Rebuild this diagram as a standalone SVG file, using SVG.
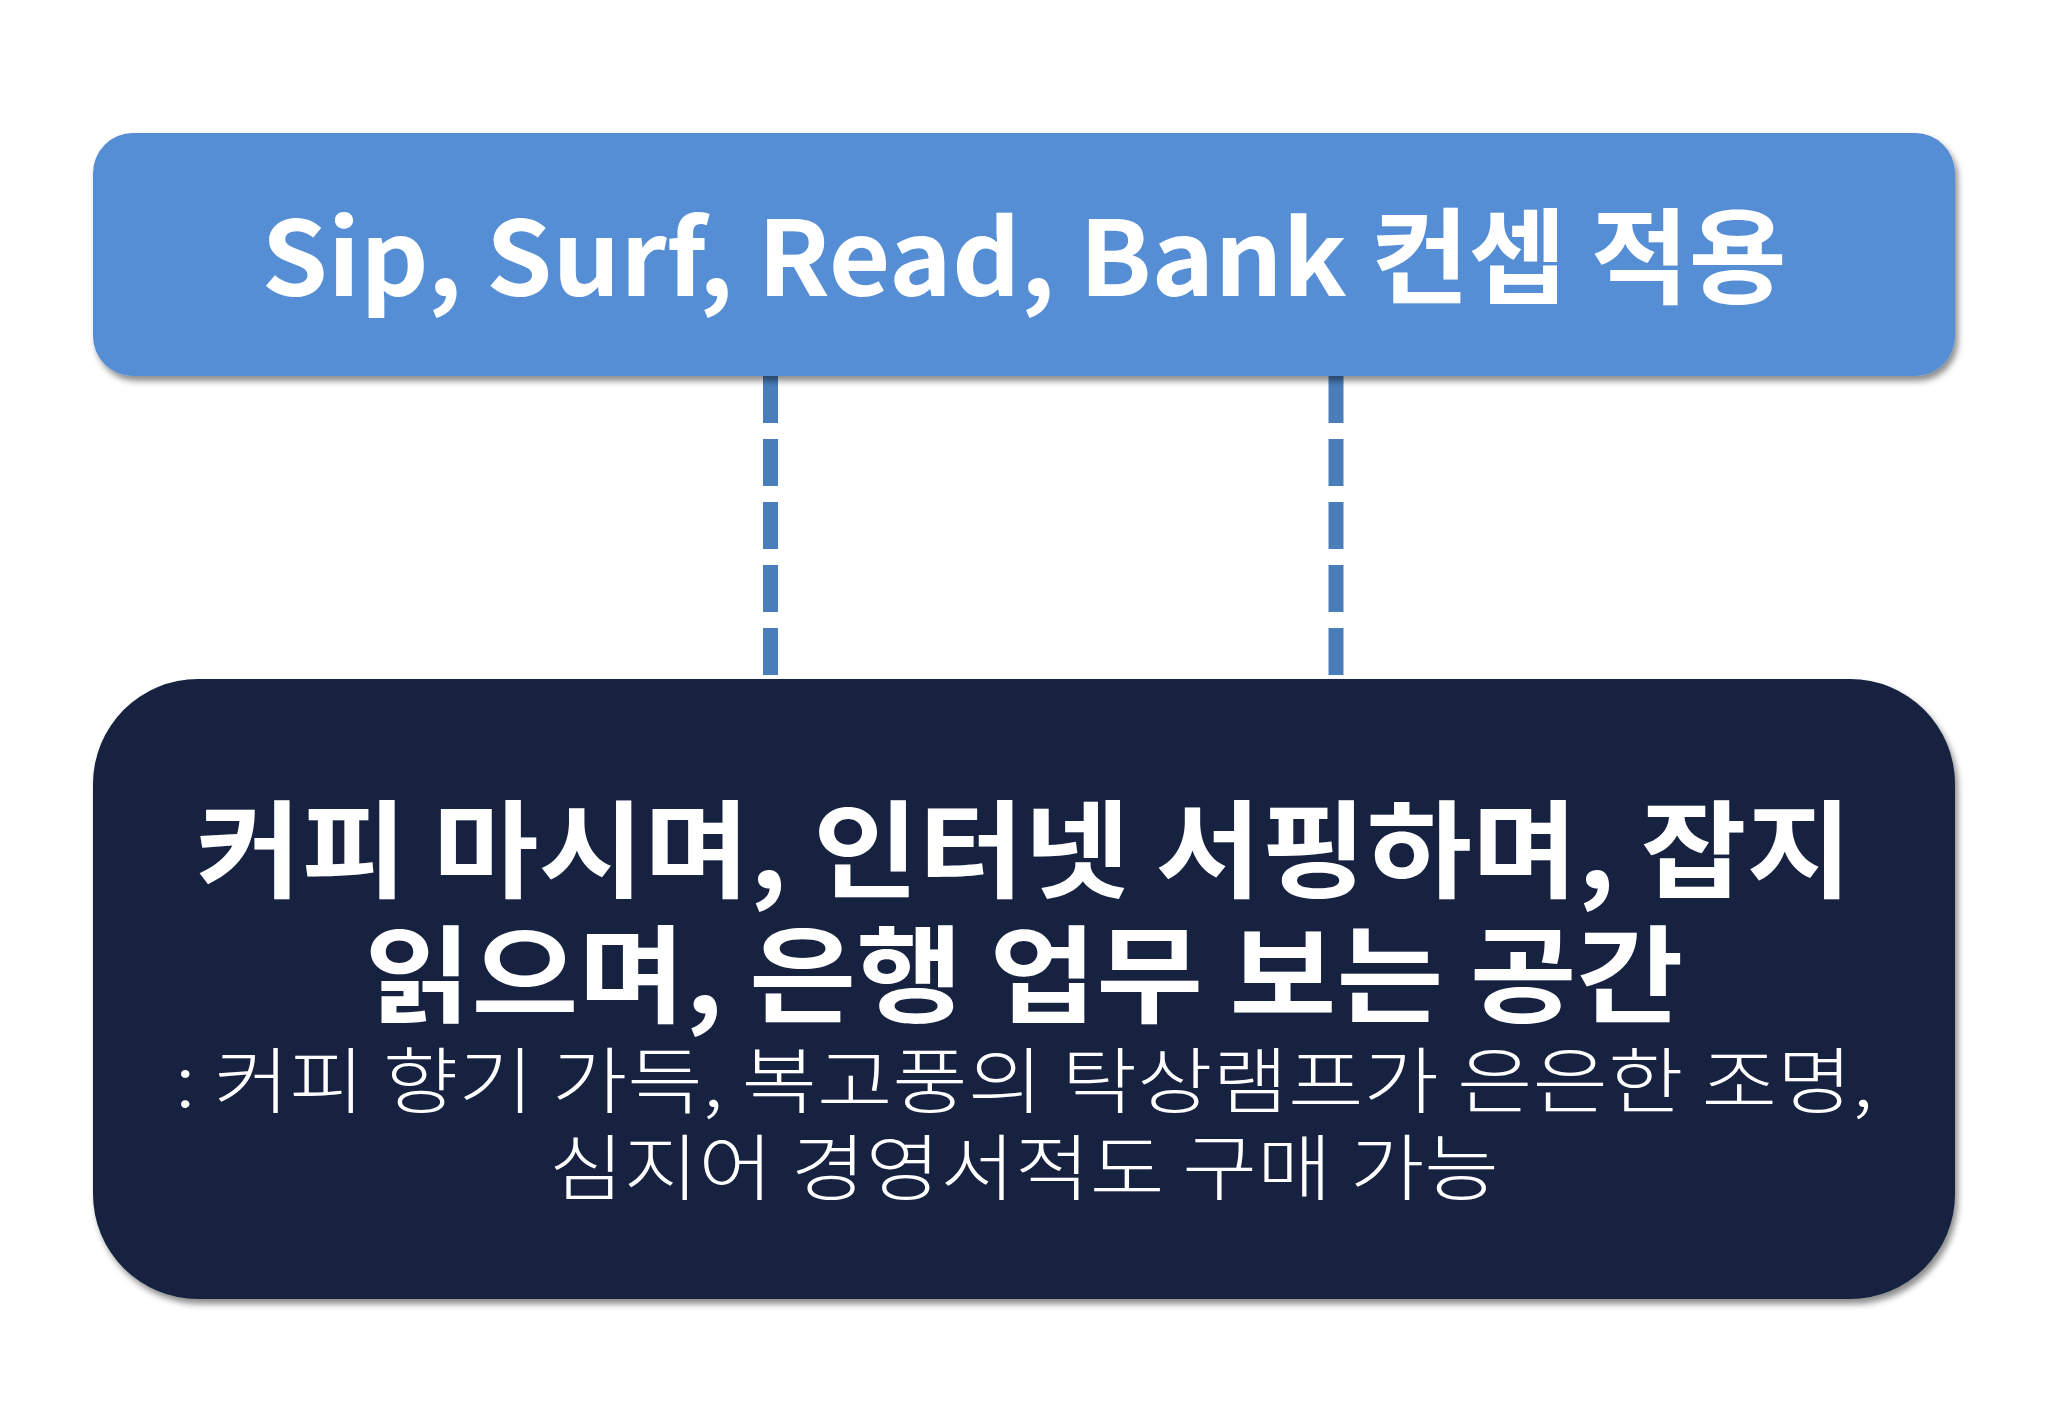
<svg xmlns="http://www.w3.org/2000/svg" width="2048" height="1418" viewBox="0 0 2048 1418">
<defs>
<filter id="sh" x="-5%" y="-10%" width="110%" height="125%">
<feDropShadow dx="3" dy="5" stdDeviation="3" flood-color="#000" flood-opacity="0.45"/>
</filter>
<style>
.t{font-family:"Malgun Gothic","Noto Sans CJK KR","Noto Sans",sans-serif;fill:#fff;text-anchor:middle}
.b{font-weight:700}
.l{font-weight:300}
.dash{stroke:#4A7EBB;stroke-width:15;stroke-dasharray:47 16;fill:none}
</style>
</defs>
<rect width="2048" height="1418" fill="#fff"/>
<g id="connectors">
<line class="dash" x1="770.5" y1="376" x2="770.5" y2="679"/>
<line class="dash" x1="1336" y1="376" x2="1336" y2="679"/>
</g>
<g id="top-node">
<rect x="93" y="133" width="1862" height="243" rx="40" fill="#558ED5" filter="url(#sh)"/>
<text class="t b" x="1024" y="296" font-size="104" textLength="1525" lengthAdjust="spacingAndGlyphs">Sip, Surf, Read, Bank 컨셉 적용</text>
</g>
<g id="bottom-node">
<rect x="93" y="679" width="1862" height="620" rx="105" fill="#12243F" filter="url(#sh)"/>
<text class="t b" x="1024" y="889" font-size="106" textLength="1656" lengthAdjust="spacingAndGlyphs">커피 마시며, 인터넷 서핑하며, 잡지</text>
<text class="t b" x="1024" y="1014" font-size="106" textLength="1319" lengthAdjust="spacingAndGlyphs">읽으며, 은행 업무 보는 공간</text>
<text class="t l" x="1024" y="1107" font-size="72" textLength="1698" lengthAdjust="spacingAndGlyphs">: 커피 향기 가득, 복고풍의 탁상램프가 은은한 조명,</text>
<text class="t l" x="1024" y="1194" font-size="72" textLength="950" lengthAdjust="spacingAndGlyphs">심지어 경영서적도 구매 가능</text>
</g>
</svg>
